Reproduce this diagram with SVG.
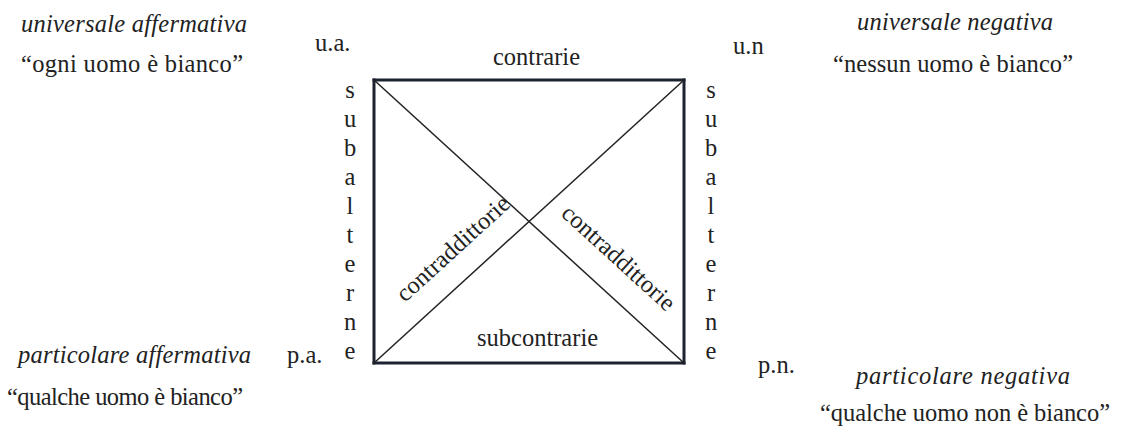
<svg xmlns="http://www.w3.org/2000/svg" width="1123" height="430" viewBox="0 0 1123 430">
<style>
.t{font-family:'Liberation Serif','Tinos','Times New Roman','DejaVu Serif',serif;font-size:24.5px;fill:#222}
.i{font-style:italic}
.side{stroke:#1c2230;stroke-width:3;fill:none;stroke-linecap:square}
.diag{stroke:#222;stroke-width:1.5;fill:none}
.v{text-anchor:middle}
</style>
<rect width="1123" height="430" fill="#fff"/>
<g id="connectors">
  <line class="side" x1="374" y1="80" x2="684" y2="80"/>
  <line class="side" x1="374" y1="363" x2="684" y2="363"/>
  <line class="side" x1="374" y1="80" x2="374" y2="363"/>
  <line class="side" x1="684" y1="80" x2="684" y2="363"/>
  <line class="diag" x1="374" y1="80" x2="684" y2="363"/>
  <line class="diag" x1="374" y1="363" x2="684" y2="80"/>
  <text class="t" x="493" y="65">contrarie</text>
  <text class="t" x="477" y="346">subcontrarie</text>
  <text class="t" transform="translate(405,303) rotate(-42.4)">contraddittorie</text>
  <text class="t" transform="translate(560,215) rotate(42.4)">contraddittorie</text>
  <text class="t v"><tspan x="350" y="98">s</tspan><tspan x="350" dy="29">u</tspan><tspan x="350" dy="29">b</tspan><tspan x="350" dy="29">a</tspan><tspan x="350" dy="29">l</tspan><tspan x="350" dy="29">t</tspan><tspan x="350" dy="29">e</tspan><tspan x="350" dy="29">r</tspan><tspan x="350" dy="29">n</tspan><tspan x="350" dy="29">e</tspan></text>
  <text class="t v"><tspan x="711" y="98">s</tspan><tspan x="711" dy="29">u</tspan><tspan x="711" dy="29">b</tspan><tspan x="711" dy="29">a</tspan><tspan x="711" dy="29">l</tspan><tspan x="711" dy="29">t</tspan><tspan x="711" dy="29">e</tspan><tspan x="711" dy="29">r</tspan><tspan x="711" dy="29">n</tspan><tspan x="711" dy="29">e</tspan></text>
</g>
<g id="ua">
  <text class="t i" x="21" y="32" textLength="226">universale affermativa</text>
  <text class="t" x="21" y="72" textLength="222">“ogni uomo è bianco”</text>
  <text class="t" x="315" y="51">u.a.</text>
</g>
<g id="un">
  <text class="t i" x="857" y="30" textLength="196">universale negativa</text>
  <text class="t" x="833" y="72" textLength="240">“nessun uomo è bianco”</text>
  <text class="t" x="733" y="54">u.n</text>
</g>
<g id="pa">
  <text class="t i" x="18" y="363" textLength="233">particolare affermativa</text>
  <text class="t" x="7" y="405" textLength="236">“qualche uomo è bianco”</text>
  <text class="t" x="287" y="363">p.a.</text>
</g>
<g id="pn">
  <text class="t i" x="856" y="384" textLength="214">particolare negativa</text>
  <text class="t" x="820" y="421" textLength="290">“qualche uomo non è bianco”</text>
  <text class="t" x="758" y="373">p.n.</text>
</g>
</svg>
